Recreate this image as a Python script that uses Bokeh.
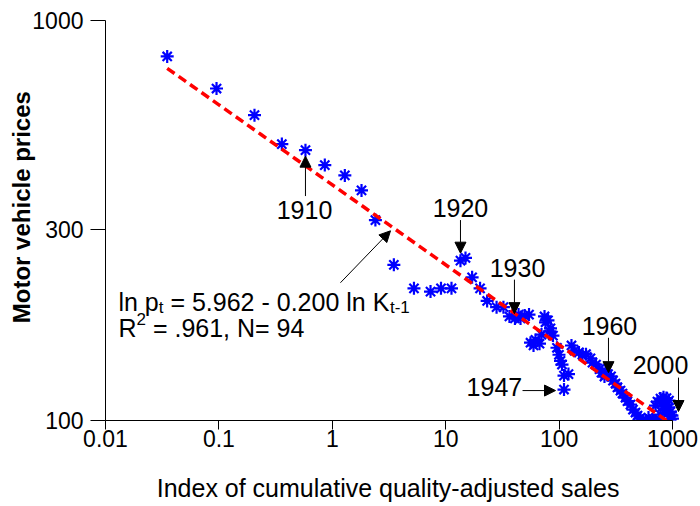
import numpy as np
from bokeh.plotting import figure
from bokeh.models import Range1d, FixedTicker, CustomJSTickFormatter, Label, Arrow, NormalHead
from bokeh.embed import file_html
from bokeh.resources import INLINE

# Index of cumulative quality-adjusted sales (K) and motor vehicle prices (p)
K = [0.035, 0.0953, 0.206, 0.359, 0.58, 0.859, 1.29, 1.81, 2.40, 3.49,
     5.25, 7.35, 9.09, 11.25, 13.5, 14.95, 17.1, 20.1, 23.2, 28.1,
     32.3, 36.5, 40.8, 43.9, 45.7, 49.6, 54.3, 56.0, 59.5, 61.9,
     67.2, 70.0, 74.4, 75.9, 79.8, 82.3, 84.0, 88.3, 95.8, 99.8,
     102.9, 106.1, 110.5, 121.0, 110.5, 128.6, 136.7, 149.8, 160.8, 172.7,
     189.2, 197.1, 211.6, 227.2, 236.6, 256.6, 251.4, 270.0, 287.0, 298.9,
     314.4, 327.3, 347.8, 362.3, 385.1, 401.1, 426.2, 448.5, 471.8, 491.3,
     516.8, 543.7, 583.9, 614.4, 627.0, 673.0, 707.9, 715.4, 752.5, 737.4,
     784.0, 784.0, 833.0, 885.3, 931.4, 816.3, 850.3, 867.6, 903.4, 921.9,
     960.2, 989.9, 960.2, 1000.0]
P = [813, 676, 580, 491, 474, 435, 410, 376, 317, 245,
     214, 210, 214, 214, 251, 255, 228, 214, 199, 192,
     192, 182, 180, 184, 180, 183, 184, 156.5, 154, 159,
     155.6, 164, 182, 176, 178, 167, 170, 163, 152, 146,
     141, 138, 129.5, 130.6, 119.5, 154, 149.5, 148, 146, 146.5,
     143, 139.5, 138, 134.4, 131.7, 133, 128.8, 130.6, 129, 125.8,
     123.7, 121, 118.8, 116.8, 114.1, 111.8, 109.6, 106.5, 104.7, 102.9,
     101.1, 100, 100, 101.7, 100, 100, 109, 100, 100.6, 111.5,
     113.5, 103.5, 114.4, 113.8, 112.2, 110.3, 105.9, 109, 104.1, 107.8,
     105.3, 102.9, 100.6, 101.1]

x_ticks = [0.01, 0.1, 1, 10, 100, 1000]
y_ticks = [100, 300, 1000]

# regression: ln p_t = 5.962 - 0.200 ln K_{t-1}
fit_a, fit_b = 5.962, 0.200

# year annotations
ann_text = ["1910", "1920", "1930", "1947", "1960", "2000"]
ann_x = [0.569, 13.5, 43.0, 26.9, 278.0, 784.0]
ann_y = [336, 340, 241, 121, 172, 138]
arr_x0 = [0.58, 13.5, 40.4, 47.6, 272.6, 1130.0, 1.18]
arr_y0 = [364, 317, 225, 118.8, 161, 128, 221]
arr_x1 = [0.58, 13.5, 40.4, 93.0, 272.6, 1130.0, 3.26]
arr_y1 = [458, 262, 185, 118.8, 131.7, 105.3, 298]

FONT = "Liberation Sans"
NB = "\u00a0"

p = figure(width=698, height=504, x_axis_type="log", y_axis_type="log",
           x_range=Range1d(0.01, 1696), y_range=Range1d(100, 1000),
           output_backend="svg", toolbar_location=None,
           min_border_left=105, min_border_right=0, min_border_top=20,
           min_border_bottom=84)
p.background_fill_color = "white"
p.border_fill_color = "white"
p.outline_line_color = None
p.xgrid.visible = False
p.ygrid.visible = False

p.scatter(K, P, marker="asterisk", size=13, line_color="#0000ff", line_width=2.2)

fx = np.geomspace(min(K), max(K), 60)
fy = np.exp(fit_a - fit_b * np.log(fx))
p.line(fx, fy, line_color="#ff0000", line_width=3.5, line_dash="9 5")

for ax, ticks in ((p.xaxis, x_ticks), (p.yaxis, y_ticks)):
    ax.ticker = FixedTicker(ticks=ticks, minor_ticks=[])
    ax.formatter = CustomJSTickFormatter(code="return String(tick)")
    ax.major_tick_in = 0
    ax.minor_tick_line_color = None
    ax.axis_line_color = "black"
    ax.major_tick_line_color = "black"
    ax.major_label_text_font = FONT
    ax.major_label_text_font_size = "23px"
    ax.major_label_text_color = "black"
    ax.axis_label_text_font = FONT
    ax.axis_label_text_color = "black"

p.xaxis.bounds = (0.01, 1000)
p.xaxis.major_tick_out = 9
p.xaxis.major_label_standoff = 0
p.xaxis.axis_label = "Index of cumulative quality-adjusted sales" + NB * 4
p.xaxis.axis_label_text_font_size = "25px"
p.xaxis.axis_label_text_font_style = "normal"
p.xaxis.axis_label_standoff = 24

p.yaxis.bounds = (100, 1000)
p.yaxis.major_tick_out = 15
p.yaxis.major_label_standoff = 7
p.yaxis.axis_label = NB * 4 + "Motor vehicle prices"
p.yaxis.axis_label_text_font_size = "24px"
p.yaxis.axis_label_text_font_style = "bold"
p.yaxis.axis_label_standoff = -6

for t, x, y in zip(ann_text, ann_x, ann_y):
    p.add_layout(Label(x=x, y=y, text=t, text_align="center", text_baseline="middle",
                       text_font=FONT, text_font_size="25px", text_color="black"))

for x0, y0, x1, y1 in zip(arr_x0, arr_y0, arr_x1, arr_y1):
    p.add_layout(Arrow(end=NormalHead(size=11, fill_color="black", line_color="black"),
                       x_start=x0, y_start=y0, x_end=x1, y_end=y1,
                       line_color="black", line_width=1))

# equation text
eq_x, eq_y1, eq_y2 = 0.0130, 198.1, 170.6
pieces = [
    ("ln p", eq_y1, 0, 0, "25px"),
    ("t", eq_y1, 40.3, -6, "17px"),
    ("= 5.962 - 0.200 ln K", eq_y1, 52.0, 0, "25px"),
    ("t-1", eq_y1, 271.5, -6, "17px"),
    ("R", eq_y2, 0, 0, "25px"),
    ("2", eq_y2, 18.1, 9, "17px"),
    ("= .961, N= 94", eq_y2, 34.5, 0, "25px"),
]
for txt, y, xo, yo, fs in pieces:
    p.add_layout(Label(x=eq_x, y=y, x_offset=xo, y_offset=yo, text=txt,
                       text_align="left", text_baseline="alphabetic",
                       text_font=FONT, text_font_size=fs, text_color="black"))

open("out.html", "w").write(file_html(p, INLINE))
